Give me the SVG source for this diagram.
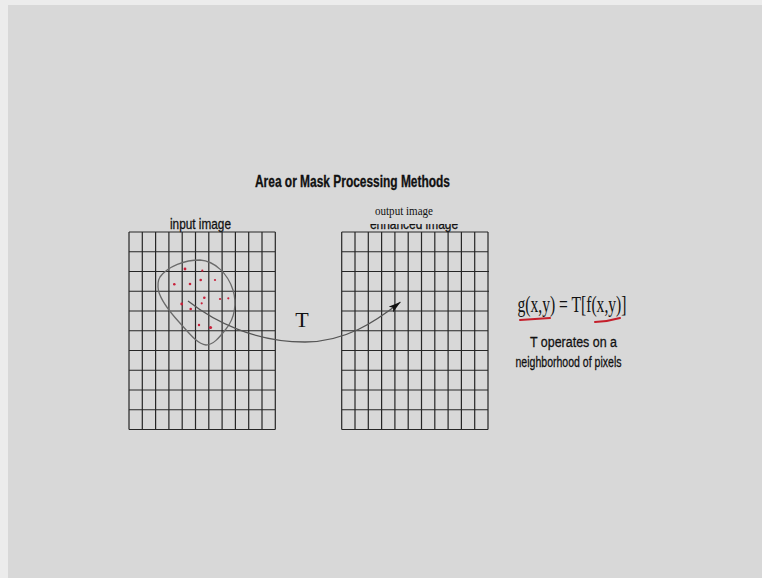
<svg xmlns="http://www.w3.org/2000/svg" width="762" height="578" viewBox="0 0 762 578">
  <style>
    .grid { fill: none; stroke: #262626; stroke-width: 1.2; }
    .sans { font-family: "Liberation Sans", Arial, sans-serif; fill: #111; stroke: #111; stroke-width: 0.3; }
    .serif { font-family: "Liberation Serif", "Times New Roman", serif; fill: #111; }
    .blob { fill: none; stroke: #6a6a6a; stroke-width: 1.3; }
    .conn { fill: none; stroke: #555; stroke-width: 1.3; }
    .dot { fill: #c8203a; }
    .ul { fill: none; stroke: #c41e2a; stroke-width: 2; stroke-linecap: round; }
  </style>
  <defs>
    <marker id="arrow" markerUnits="userSpaceOnUse" markerWidth="13" markerHeight="8" refX="12" refY="3.5" orient="auto">
      <path d="M0,0 L12,3.5 L0,7 L2.5,3.5 Z" fill="#111"/>
    </marker>
    <clipPath id="cut">
      <rect x="360" y="224" width="110" height="12"/>
    </clipPath>
  </defs>
  <rect x="0" y="0" width="762" height="578" fill="#ececec"/>
  <rect x="8" y="5" width="754" height="573" fill="#d8d8d8"/>

  <text class="sans" x="352.5" y="187" font-size="16" font-weight="bold" text-anchor="middle" textLength="195" lengthAdjust="spacingAndGlyphs">Area or Mask Processing Methods</text>

  <g id="input-image">
    <text class="sans" x="200.5" y="228.5" font-size="15" text-anchor="middle" textLength="61" lengthAdjust="spacingAndGlyphs">input image</text>
    <path class="grid" d="M129,232 V429.5 M142.3,232 V429.5 M155.6,232 V429.5 M168.9,232 V429.5 M182.2,232 V429.5 M195.5,232 V429.5 M208.8,232 V429.5 M222.1,232 V429.5 M235.4,232 V429.5 M248.7,232 V429.5 M262,232 V429.5 M275.3,232 V429.5 M129,232 H275.3 M129,251.75 H275.3 M129,271.5 H275.3 M129,291.25 H275.3 M129,311 H275.3 M129,330.75 H275.3 M129,350.5 H275.3 M129,370.25 H275.3 M129,390 H275.3 M129,409.75 H275.3 M129,429.5 H275.3"/>
  </g>

  <g id="neighborhood">
    <path class="blob" d="M160,277 C168,266 185,260 200,260 C215,261 228,274 233,290 C237,303 235,318 226,329 C219,338 213,345 206,345 C197,344 189,333 179,322 C169,311 161,300 158.5,291 C157.5,285 157.5,281 160,277 Z"/>
    <circle class="dot" cx="185" cy="269" r="1.4"/>
    <circle class="dot" cx="202.3" cy="270.7" r="1.1"/>
    <circle class="dot" cx="174.3" cy="284.3" r="1.3"/>
    <circle class="dot" cx="190" cy="284" r="1.3"/>
    <circle class="dot" cx="200.7" cy="280" r="1.3"/>
    <circle class="dot" cx="215" cy="280" r="1.1"/>
    <circle class="dot" cx="204.3" cy="297.7" r="1.3"/>
    <circle class="dot" cx="220" cy="299" r="1.1"/>
    <circle class="dot" cx="228.3" cy="298.3" r="1.1"/>
    <circle class="dot" cx="181.7" cy="304" r="1.4"/>
    <circle class="dot" cx="201.7" cy="303.3" r="1.1"/>
    <circle class="dot" cx="190.7" cy="309" r="1.3"/>
    <circle class="dot" cx="199" cy="325" r="1.2"/>
    <circle class="dot" cx="210.5" cy="327.5" r="1.6"/>
  </g>

  <g id="output-image">
    <text class="sans" x="414" y="229" font-size="15" text-anchor="middle" textLength="88" lengthAdjust="spacingAndGlyphs" clip-path="url(#cut)">enhanced image</text>
    <text class="serif" x="404" y="215" font-size="13" text-anchor="middle" textLength="58" lengthAdjust="spacingAndGlyphs">output image</text>
    <path class="grid" d="M341.7,232 V429.5 M355,232 V429.5 M368.3,232 V429.5 M381.6,232 V429.5 M394.9,232 V429.5 M408.2,232 V429.5 M421.5,232 V429.5 M434.8,232 V429.5 M448.1,232 V429.5 M461.4,232 V429.5 M474.7,232 V429.5 M488,232 V429.5 M341.7,232 H488 M341.7,251.75 H488 M341.7,271.5 H489 M341.7,291.25 H489 M341.7,311 H488 M341.7,330.75 H488 M341.7,350.5 H488 M341.7,370.25 H488 M341.7,390 H488 M341.7,409.75 H488 M341.7,429.5 H488"/>
  </g>

  <g id="connectors">
    <path class="conn" d="M188,301 C215,322 255,342 305,342 C345,342 375,322 400.5,302" marker-end="url(#arrow)"/>
    <text class="serif" x="302" y="327" font-size="22" text-anchor="middle">T</text>
  </g>

  <g id="formula">
    <text class="serif" x="572" y="312" font-size="23" text-anchor="middle" textLength="109" lengthAdjust="spacingAndGlyphs">g(x,y) = T[f(x,y)]</text>
    <path class="ul" d="M520,320 Q535,319 550,318"/>
    <path class="ul" d="M595,322 Q608,321.5 620,318"/>
    <text class="sans" x="573.5" y="347" font-size="15.5" text-anchor="middle" textLength="87" lengthAdjust="spacingAndGlyphs">T operates on a</text>
    <text class="sans" x="568.5" y="367" font-size="15.5" text-anchor="middle" textLength="106" lengthAdjust="spacingAndGlyphs">neighborhood of pixels</text>
  </g>
</svg>
